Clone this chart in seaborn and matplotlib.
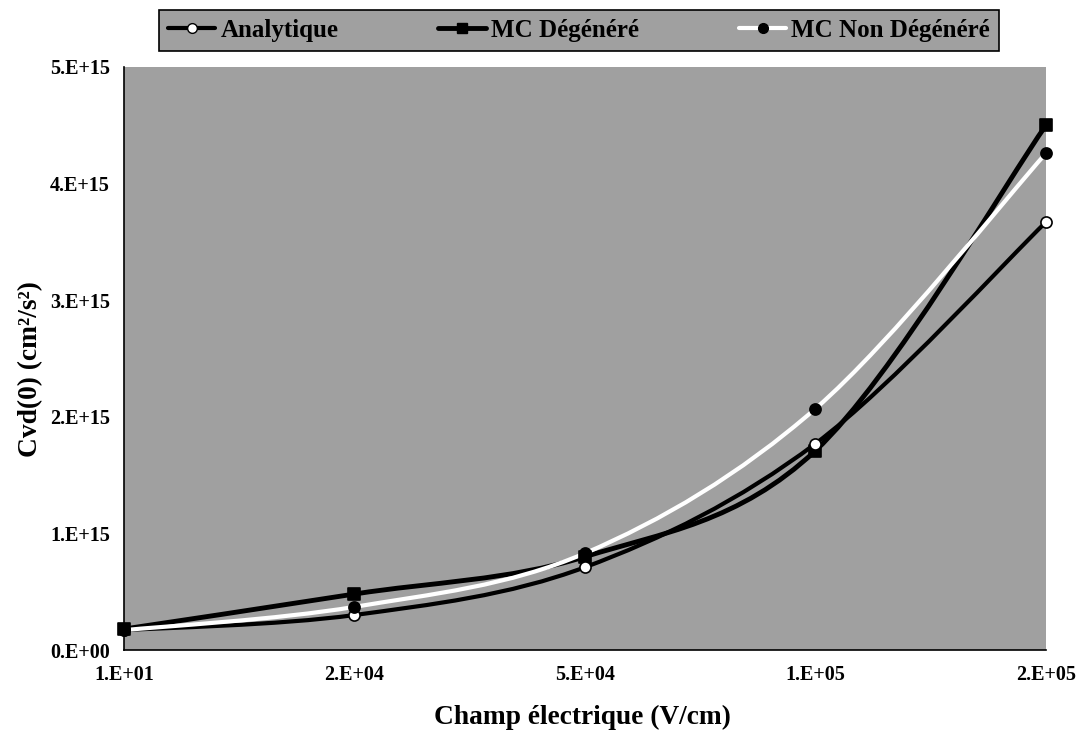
import numpy as np
import pandas as pd
import matplotlib
matplotlib.use("Agg")
import matplotlib.pyplot as plt
import seaborn as sns
from matplotlib.path import Path
from matplotlib.patches import PathPatch
from matplotlib.lines import Line2D

# ---- data ----
categories = ["1.E+01", "2.E+04", "5.E+04", "1.E+05", "2.E+05"]
analytique = [0.17e15, 0.30e15, 0.71e15, 1.77e15, 3.67e15]
mc_degenere = [0.18e15, 0.48e15, 0.80e15, 1.71e15, 4.50e15]
mc_non_degenere = [0.17e15, 0.37e15, 0.83e15, 2.07e15, 4.26e15]
y_ticks = [0, 1e15, 2e15, 3e15, 4e15, 5e15]
y_tick_labels = ["0.E+00", "1.E+15", "2.E+15", "3.E+15", "4.E+15", "5.E+15"]

series_names = ["Analytique", "MC Dégénéré", "MC Non Dégénéré"]

df = pd.DataFrame({
    "x": list(range(len(categories))) * 3,
    "y": analytique + mc_degenere + mc_non_degenere,
    "serie": sum([[n] * len(categories) for n in series_names], []),
})

sns.set_style("white")
plt.rcParams["font.family"] = ["Liberation Serif", "DejaVu Serif"]
plt.rcParams["font.weight"] = "bold"
plt.rcParams["text.color"] = "black"
plt.rcParams["axes.labelcolor"] = "black"
plt.rcParams["xtick.color"] = "black"
plt.rcParams["ytick.color"] = "black"

fig = plt.figure(figsize=(10.8, 7.41), dpi=100)
ax = fig.add_axes([0.1148, 0.1228, 0.9685 - 0.1148, 0.9096 - 0.1228])
bg = "#a0a0a0"
ax.set_facecolor(bg)

styles = {
    "Analytique": dict(line="black", lw=3.0, marker="o", mfc="white", mec="black", ms=8),
    "MC Dégénéré": dict(line="black", lw=3.5, marker="s", mfc="black", mec="black", ms=8),
    "MC Non Dégénéré": dict(line="white", lw=3.0, marker="o", mfc="black", mec="black", ms=8),
}


def smooth_path(xs, ys):
    pts = np.column_stack([xs, ys]).astype(float)
    n = len(pts)
    verts = [pts[0]]
    codes = [Path.MOVETO]
    for i in range(n - 1):
        p_prev = pts[i - 1] if i > 0 else pts[i]
        p0 = pts[i]
        p1 = pts[i + 1]
        p_next = pts[i + 2] if i + 2 < n else pts[i + 1]
        c1 = p0 + (p1 - p_prev) / 6.0
        c2 = p1 - (p_next - p0) / 6.0
        verts += [c1, c2, p1]
        codes += [Path.CURVE4] * 3
    return Path(verts, codes)


order = ["MC Dégénéré", "Analytique", "MC Non Dégénéré"]
for z, name in enumerate(order):
    sub = df[df["serie"] == name]
    st = styles[name]
    patch = PathPatch(smooth_path(sub["x"].values, sub["y"].values),
                      facecolor="none", edgecolor=st["line"], lw=st["lw"],
                      transform=ax.transData, zorder=2 + z, capstyle="round",
                      joinstyle="round")
    ax.add_patch(patch)

for z, name in enumerate(order):
    sub = df[df["serie"] == name]
    st = styles[name]
    sns.scatterplot(data=sub, x="x", y="y", ax=ax, marker=st["marker"],
                    color=st["mfc"], edgecolor=st["mec"], linewidth=1.2,
                    s=st["ms"] ** 2, zorder=6 + z, legend=False, clip_on=False)

ax.set_xlim(0, len(categories) - 1)
ax.set_ylim(0, 5e15)
ax.set_xticks(range(len(categories)))
ax.set_xticklabels(categories)
ax.set_yticks(y_ticks)
ax.set_yticklabels(y_tick_labels)
ax.tick_params(axis="x", labelsize=14.5, length=6, width=1.0,
               direction="out", pad=5)
ax.tick_params(axis="y", labelsize=14.5, direction="inout", length=10, width=1.0, pad=5)
for lab in ax.get_xticklabels() + ax.get_yticklabels():
    lab.set_fontweight("bold")

for s in ["top", "right"]:
    ax.spines[s].set_visible(False)
for s in ["left", "bottom"]:
    ax.spines[s].set_color("black")
    ax.spines[s].set_linewidth(1.2)

ax.set_xlabel("Champ électrique (V/cm)", fontsize=19.7, fontweight="bold")
ax.xaxis.set_label_coords(0.497, -0.094)
ax.set_ylabel("Cvd(0) (cm²/s²)", fontsize=19.7, fontweight="bold")
ax.yaxis.set_label_coords(-0.088, 0.482)

handles = []
for name in series_names:
    st = styles[name]
    handles.append(Line2D([0], [0], color=st["line"], lw=st["lw"], marker=st["marker"],
                          markerfacecolor=st["mfc"], markeredgecolor=st["mec"],
                          markersize=7))
leg = fig.legend(handles, series_names, loc="upper center", ncol=3,
                 bbox_to_anchor=(0.536, 1.003), frameon=True, fancybox=False,
                 prop={"family": "Liberation Serif", "weight": "bold", "size": 18},
                 handlelength=1.9, handletextpad=0.2, columnspacing=4.0,
                 borderpad=0.35)
frame = leg.get_frame()
frame.set_facecolor(bg)
frame.set_edgecolor("black")
frame.set_linewidth(1.2)
frame.set_alpha(1.0)

fig.savefig("out.png", dpi=100)
